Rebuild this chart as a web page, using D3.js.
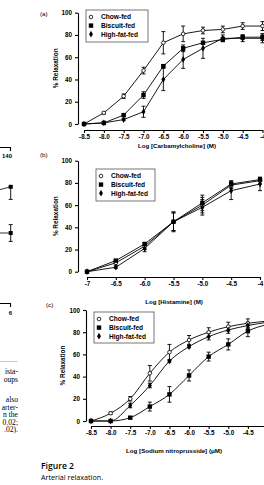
<!DOCTYPE html>
<html><head><meta charset="utf-8">
<script src="https://cdn.jsdelivr.net/npm/d3@7"></script>
<style>body{margin:0;background:#fff}svg{display:block}</style>
</head><body>
<svg id="c" width="264" height="485"></svg>
<script>
// ---- Data ----
const seriesNames = ["Chow-fed", "Biscuit-fed", "High-fat-fed"];

const carbX = [-8.5, -8.0, -7.5, -7.0, -6.5, -6.0, -5.5, -5.0, -4.5, -4];
const carbChow = [0, 10, 25, 48, 73, 81, 84, 85, 88, 88];
const carbChowErr = [0, 1, 2, 3, 10, 7, 3, 3, 3, 4];
const carbBisc = [0, 1, 8, 26, 52, 68, 73, 76, 78, 78];
const carbBiscErr = [0, 0, 1, 3, 1, 3, 1, 2, 2, 3];
const carbHF = [0, 1, 4, 11, 40, 58, 68, 77, 77, 77];
const carbHFErr = [0, 0, 1, 5, 10, 8, 9, 3, 3, 4];
const carbTicks = ["-8.5", "-8.0", "-7.5", "-7.0", "-6.5", "-6.0", "-5.5", "-5.0", "-4.5", "-4"];

const histX = [-7, -6.5, -6.0, -5.5, -5.0, -4.5, -4];
const histChow = [0, 8, 23, 45, 60, 78, 82];
const histChowErr = [0, 2, 3, 8, 7, 3, 3];
const histBisc = [0, 10, 25, 45, 62, 79, 83];
const histBiscErr = [0, 1, 1, 8, 7, 3, 2];
const histHF = [0, 4, 21, 45, 58, 73, 79];
const histHFErr = [0, 1, 3, 9, 7, 8, 6];
const histTicks = ["-7", "-6.5", "-6.0", "-5.5", "-5.0", "-4.5", "-4"];

const snpX = [-8.5, -8.0, -7.5, -7.0, -6.5, -6.0, -5.5, -5.0, -4.5, -4];
const snpChow = [0, 7, 20, 43, 62, 73, 80, 85, 88, 90];
const snpChowErr = [0, 1, 2, 7, 7, 4, 4, 4, 4, 3];
const snpBisc = [0, 0, 3, 13, 24, 41, 58, 69, 81, 87];
const snpBiscErr = [0, 0, 1, 4, 7, 5, 4, 5, 5, 3];
const snpHF = [0, 0, 14, 32, 54, 67, 76, 82, 86, 89];
const snpHFErr = [0, 0, 2, 2, 1, 1, 3, 3, 3, 3];
const snpTicks = ["-8.5", "-8.0", "-7.5", "-7.0", "-6.5", "-6.0", "-5.5", "-5.0", "-4.5", "-4"];

const yTicks = [0, 20, 40, 60, 80, 100];

// partial neighbouring figure at left edge
const leftVals = [83, 50];
const leftErr = [9, 6];
const leftPrev = [81, 50];

const svg = d3.select("#c");
const font = "'Liberation Sans', Arial, sans-serif";

function panel(cfg) {
  const g = svg.append("g");
  const x = d3.scaleLinear().domain([cfg.xs[0], cfg.xs[cfg.xs.length - 1]]).range([cfg.x0, cfg.x1]);
  const y = d3.scaleLinear().domain([0, 100]).range([cfg.yb, cfg.yt]);

  const ya = g.append("g").attr("transform", `translate(${cfg.ax},0)`)
    .call(d3.axisLeft(y).tickValues(yTicks).tickSize(3).tickSizeOuter(0).tickPadding(3));
  const xa = g.append("g").attr("transform", `translate(0,${cfg.xay})`)
    .call(d3.axisBottom(x).tickValues(cfg.xs).tickFormat((d, i) => cfg.ticks[i]).tickSize(3).tickSizeOuter(0).tickPadding(2));
  [ya, xa].forEach(a => {
    a.selectAll("path,line").attr("stroke", "#000").attr("stroke-width", 1.1);
    a.selectAll("text").attr("font-family", font).attr("font-weight", "bold").attr("font-size", 6.3).attr("fill", "#000");
  });

  const sets = [
    { v: cfg.chow, e: cfg.chowE, sym: "circle" },
    { v: cfg.bisc, e: cfg.biscE, sym: "square" },
    { v: cfg.hf, e: cfg.hfE, sym: "diamond" }
  ];
  const line = d3.line().x(d => x(d[0])).y(d => y(d[1])).curve(cfg.curve);
  sets.forEach(s => {
    const pts = cfg.xs.map((xv, i) => [xv, s.v[i], s.e[i]]);
    g.append("path").datum(pts).attr("d", line).attr("fill", "none").attr("stroke", "#000").attr("stroke-width", 0.9);
    const eb = g.append("g");
    pts.filter(p => p[2] > 0).forEach(p => {
      const cx = x(p[0]);
      eb.append("line").attr("x1", cx).attr("x2", cx).attr("y1", y(p[1] - p[2])).attr("y2", y(p[1] + p[2])).attr("stroke", "#000").attr("stroke-width", 0.9);
      [p[1] - p[2], p[1] + p[2]].forEach(v => eb.append("line").attr("x1", cx - 2).attr("x2", cx + 2).attr("y1", y(v)).attr("y2", y(v)).attr("stroke", "#000").attr("stroke-width", 0.9));
    });
  });
  sets.forEach(s => {
    const pts = cfg.xs.map((xv, i) => [xv, s.v[i]]);
    drawMarks(g, pts.map(p => [x(p[0]), y(p[1])]), s.sym);
  });

  const lg = g.append("g");
  lg.append("rect").attr("x", cfg.lx).attr("y", cfg.ly).attr("width", cfg.lw).attr("height", cfg.lh)
    .attr("fill", "#fff").attr("stroke", "#555").attr("stroke-width", 0.8);
  seriesNames.forEach((n, i) => {
    const yy = cfg.ly + 7 + i * 8.6;
    drawMarks(lg, [[cfg.lx + 5, yy]], sets[i].sym);
    lg.append("text").attr("x", cfg.lx + 15).attr("y", yy + 2.3).text(n)
      .attr("font-family", font).attr("font-weight", "bold").attr("font-size", 6.6);
  });

  g.append("text").attr("x", cfg.tx).attr("y", cfg.ty).attr("text-anchor", "middle").text(cfg.title)
    .attr("font-family", font).attr("font-weight", "bold").attr("font-size", 6.2);
  g.append("text").attr("transform", `translate(${cfg.yl},${(cfg.yt + cfg.yb) / 2}) rotate(-90)`)
    .attr("text-anchor", "middle").text("% Relaxation")
    .attr("font-family", font).attr("font-weight", "bold").attr("font-size", 6.4);
  g.append("text").attr("x", cfg.px).attr("y", cfg.py).text(cfg.label)
    .attr("font-family", font).attr("font-size", 6.2);
}

function drawMarks(g, pts, sym) {
  pts.forEach(([cx, cy]) => {
    if (sym === "circle") {
      g.append("circle").attr("cx", cx).attr("cy", cy).attr("r", 1.8).attr("fill", "#fff").attr("stroke", "#000").attr("stroke-width", 0.8);
    } else if (sym === "square") {
      g.append("rect").attr("x", cx - 2.2).attr("y", cy - 2.2).attr("width", 4.4).attr("height", 4.4).attr("fill", "#000");
    } else {
      g.append("path").attr("transform", `translate(${cx},${cy})`).attr("d", d3.symbol(d3.symbolDiamond, 13)()).attr("fill", "#000");
    }
  });
}

panel({ xs: carbX, ticks: carbTicks, chow: carbChow, chowE: carbChowErr, bisc: carbBisc, biscE: carbBiscErr, hf: carbHF, hfE: carbHFErr,
  x0: 84, x1: 262.5, yb: 124, yt: 12.7, ax: 78, xay: 130, curve: d3.curveLinear,
  lx: 86, ly: 10, lw: 62, lh: 32, title: "Log [Carbamylcholine] (M)", tx: 177, ty: 147.5, yl: 58, label: "(a)", px: 40, py: 16 });

panel({ xs: histX, ticks: histTicks, chow: histChow, chowE: histChowErr, bisc: histBisc, biscE: histBiscErr, hf: histHF, hfE: histHFErr,
  x0: 87, x1: 260, yb: 271.7, yt: 160.7, ax: 78, xay: 277, curve: d3.curveLinear,
  lx: 96, ly: 169, lw: 59, lh: 32, title: "Log [Histamine] (M)", tx: 174, ty: 303.5, yl: 58, label: "(b)", px: 40, py: 157 });

panel({ xs: snpX, ticks: snpTicks, chow: snpChow, chowE: snpChowErr, bisc: snpBisc, biscE: snpBiscErr, hf: snpHF, hfE: snpHFErr,
  x0: 91, x1: 267.5, yb: 421, yt: 310, ax: 86, xay: 426, curve: d3.curveMonotoneX,
  lx: 94, ly: 312, lw: 60, lh: 31, title: "Log [Sodium nitroprusside] (\u03bcM)", tx: 174, ty: 452.5, yl: 65, label: "(c)", px: 46, py: 307 });

// ---- partial neighbouring figure (left edge) ----
const ly = d3.scaleLinear().domain([0, 100]).range([303, 163]);
const lxPos = [10.7];
const lg = svg.append("g");
lg.append("path").attr("d", "M0,147.5H10.5V151").attr("fill", "none").attr("stroke", "#000").attr("stroke-width", 1.1);
lg.append("text").attr("x", 12).attr("y", 158).attr("text-anchor", "end").text("140").attr("font-family", font).attr("font-weight", "bold").attr("font-size", 6);
lg.append("path").attr("d", "M0,303.5H10.5V307").attr("fill", "none").attr("stroke", "#000").attr("stroke-width", 1.1);
lg.append("text").attr("x", 10.5).attr("y", 315).attr("text-anchor", "middle").text("6").attr("font-family", font).attr("font-weight", "bold").attr("font-size", 6);
leftVals.forEach((v, i) => {
  const cx = lxPos[0];
  lg.append("line").attr("x1", 0).attr("x2", cx).attr("y1", ly(leftPrev[i])).attr("y2", ly(v)).attr("stroke", "#000").attr("stroke-width", 0.8);
  lg.append("line").attr("x1", cx).attr("x2", cx).attr("y1", ly(v + (i ? leftErr[i] : 0))).attr("y2", ly(v - leftErr[i])).attr("stroke", "#000").attr("stroke-width", 0.9);
  [v + (i ? leftErr[i] : 0), v - leftErr[i]].forEach(e => lg.append("line").attr("x1", cx - 2).attr("x2", cx + 2).attr("y1", ly(e)).attr("y2", ly(e)).attr("stroke", "#000").attr("stroke-width", 0.9));
  lg.append("rect").attr("x", cx - 2).attr("y", ly(v) - 2).attr("width", 4).attr("height", 4).attr("fill", "#000");
});

svg.append("line").attr("x1", 0).attr("x2", 17.5).attr("y1", 361.5).attr("y2", 361.5).attr("stroke", "#bbb").attr("stroke-width", 0.8);
const bodyLines = [["ista-", 374], ["oups", 381.5], ["also", 402], ["arter-", 409.5], ["n the", 417], ["0.02;", 424.5], [".02).", 432]];
bodyLines.forEach(([t, yy]) => svg.append("text").attr("x", 18).attr("y", yy).attr("text-anchor", "end").text(t)
  .attr("font-family", "'Liberation Serif', serif").attr("font-size", 7.6));

svg.append("text").attr("x", 41).attr("y", 469).text("Figure 2").attr("font-family", "'Open Sans', sans-serif").attr("font-weight", 600).attr("font-size", 8.6);
svg.append("text").attr("x", 41).attr("y", 480).text("Arterial relaxation.").attr("font-family", "'Open Sans', sans-serif").attr("font-size", 7.2);
</script>
</body></html>
